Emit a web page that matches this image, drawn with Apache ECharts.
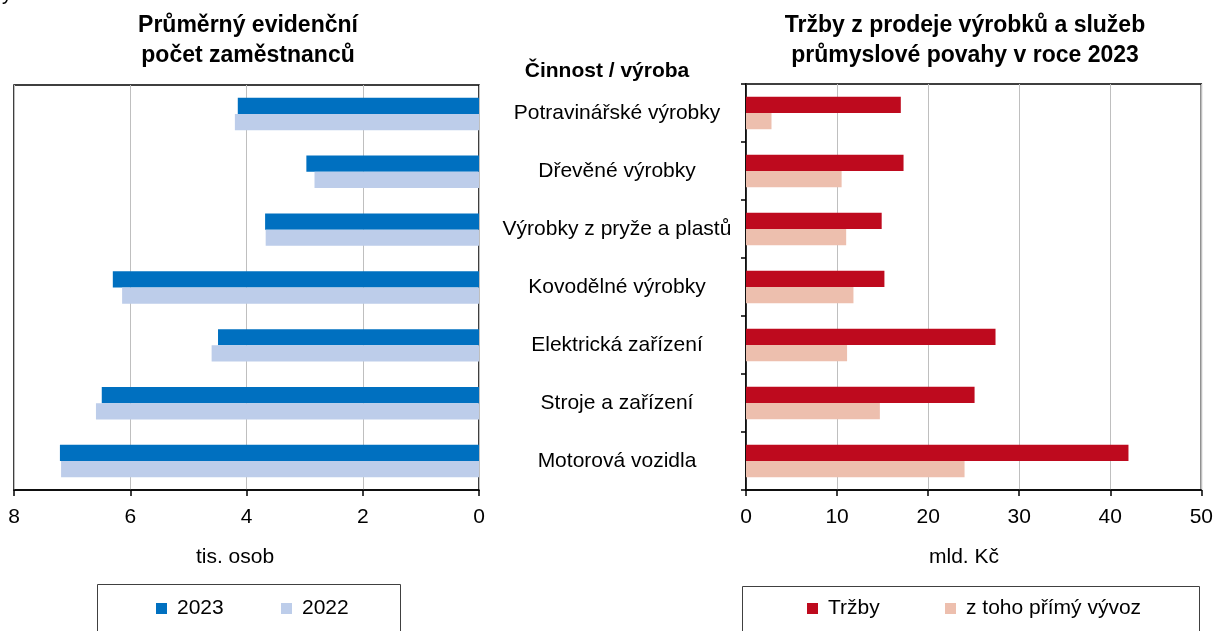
<!DOCTYPE html>
<html>
<head>
<meta charset="utf-8">
<script src="https://cdn.jsdelivr.net/npm/echarts@6/dist/echarts.min.js"></script>
<style>
html,body{margin:0;padding:0;background:#fff;}
#chart{width:1216px;height:631px;}
</style>
</head>
<body>
<div id="chart"></div>
<script>
var kategorie=['Potravinářské výrobky','Dřevěné výrobky','Výrobky z pryže a plastů','Kovodělné výrobky','Elektrická zařízení','Stroje a zařízení','Motorová vozidla'];
/*zaměstnanci, tis. osob*/
var zam2023=[4.15,2.97,3.68,6.30,4.49,6.49,7.21];
var zam2022=[4.20,2.83,3.67,6.14,4.60,6.59,7.19];
/*tržby, mld. Kč*/
var trzby=[17.0,17.3,14.9,15.2,27.4,25.1,42.0];
var vyvoz=[2.8,10.5,11.0,11.8,11.1,14.7,24.0];

var font='"Liberation Sans", Arial, sans-serif';
var myChart=echarts.init(document.getElementById('chart'));

var legendItem=function(name,left){
	return {
		data:[name],left:left,top:598,itemWidth:11,itemHeight:11,icon:'rect',
		padding:0,itemGap:0,
		textStyle:{fontFamily:font,fontSize:21,color:'#000',padding:[0,0,0,5]}
	}
}

var option={
	animation:false,
	backgroundColor:'#fff',
	textStyle:{fontFamily:font},
	legend:[
		legendItem('2023',156),
		legendItem('2022',281),
		legendItem('Tržby',807),
		legendItem('z toho přímý vývoz',945)
	],
	grid:[
		{left:14,right:737,top:85,bottom:141,show:true,borderColor:'#000',borderWidth:1.5,backgroundColor:'transparent'},
		{left:746,right:13,top:84,bottom:141,show:true,borderColor:'#000',borderWidth:1.5,backgroundColor:'transparent'}
	],
	xAxis:[
		{
			type:'value',gridIndex:0,inverse:true,min:0,max:8,interval:2,
			axisLine:{show:true,lineStyle:{color:'#000',width:1.5}},
			axisTick:{show:true,length:6,lineStyle:{color:'#000',width:1.5}},
			axisLabel:{fontSize:21,color:'#000',margin:17,fontFamily:font},
			splitLine:{show:true,lineStyle:{color:'#BFBFBF',width:1}}
		},
		{
			type:'value',gridIndex:1,min:0,max:50,interval:10,
			axisLine:{show:true,lineStyle:{color:'#000',width:1.5}},
			axisTick:{show:true,length:6,lineStyle:{color:'#000',width:1.5}},
			axisLabel:{fontSize:21,color:'#000',margin:17,fontFamily:font},
			splitLine:{show:true,lineStyle:{color:'#BFBFBF',width:1}}
		}
	],
	yAxis:[
		{
			type:'category',gridIndex:0,data:kategorie,inverse:true,position:'right',
			axisLine:{show:false},axisTick:{show:false},axisLabel:{show:false}
		},
		{
			type:'category',gridIndex:1,data:kategorie,inverse:true,
			axisLine:{show:true,lineStyle:{color:'#000',width:1.5}},
			axisTick:{show:true,length:5,lineStyle:{color:'#000',width:1.5}},
			axisLabel:{show:true,fontSize:21,color:'#000',align:'center',margin:129,fontFamily:font,padding:[3,0,0,0]}
		}
	],
	series:[
		{name:'2023',type:'bar',xAxisIndex:0,yAxisIndex:0,data:zam2023,barGap:'0%',barCategoryGap:'44%',itemStyle:{color:'#0070C0'}},
		{name:'2022',type:'bar',xAxisIndex:0,yAxisIndex:0,data:zam2022,barGap:'0%',barCategoryGap:'44%',itemStyle:{color:'#BDCDEA'}},
		{name:'Tržby',type:'bar',xAxisIndex:1,yAxisIndex:1,data:trzby,barGap:'0%',barCategoryGap:'44%',itemStyle:{color:'#BE0A1E'}},
		{name:'z toho přímý vývoz',type:'bar',xAxisIndex:1,yAxisIndex:1,data:vyvoz,barGap:'0%',barCategoryGap:'44%',itemStyle:{color:'#EDBFAE'}}
	],
	graphic:[
		{type:'text',left:2,top:-16,style:{text:'y',font:'20px '+font,fill:'#000'}},
		{type:'text',x:248,y:41,style:{text:'Průměrný evidenční\npočet zaměstnanců',font:'bold 23px '+font,fill:'#000',align:'center',verticalAlign:'middle',lineHeight:30}},
		{type:'text',x:965,y:41,style:{text:'Tržby z prodeje výrobků a služeb\nprůmyslové povahy v roce 2023',font:'bold 23px '+font,fill:'#000',align:'center',verticalAlign:'middle',lineHeight:30}},
		{type:'text',x:607,y:71,style:{text:'Činnost / výroba',font:'bold 21px '+font,fill:'#000',align:'center',verticalAlign:'middle'}},
		{type:'text',x:235,y:557,style:{text:'tis. osob',font:'21px '+font,fill:'#000',align:'center',verticalAlign:'middle'}},
		{type:'text',x:964,y:557,style:{text:'mld. Kč',font:'21px '+font,fill:'#000',align:'center',verticalAlign:'middle'}},
		{type:'rect',shape:{x:97.5,y:584.5,width:303,height:70},style:{fill:'none',stroke:'#404040',lineWidth:1}},
		{type:'rect',shape:{x:742.5,y:586.5,width:457,height:70},style:{fill:'none',stroke:'#404040',lineWidth:1}}
	]
};
myChart.setOption(option);
</script>
</body>
</html>
